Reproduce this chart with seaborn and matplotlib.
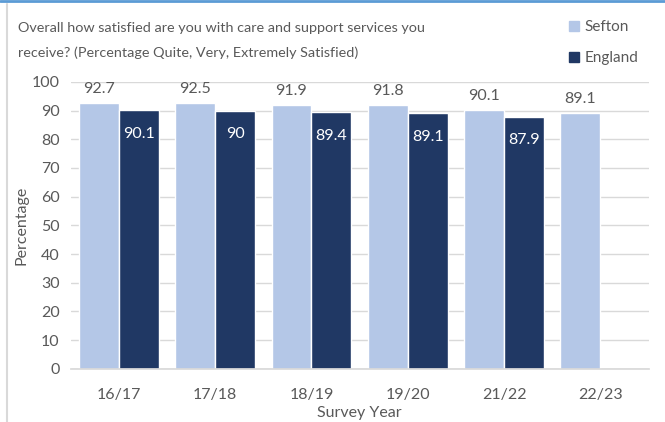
import matplotlib
matplotlib.use("Agg")
import matplotlib.pyplot as plt
from matplotlib.lines import Line2D
from matplotlib import font_manager
import seaborn as sns
import pandas as pd
import numpy as np

years = ["16/17", "17/18", "18/19", "19/20", "21/22", "22/23"]
sefton = [92.7, 92.5, 91.9, 91.8, 90.1, 89.1]
england = [90.1, 90.0, 89.4, 89.1, 87.9, np.nan]

df = pd.DataFrame({
    "Survey Year": years * 2,
    "Percentage": sefton + england,
    "Area": ["Sefton"] * len(years) + ["England"] * len(years),
}).dropna()

sns.set_theme(style="white")
plt.rcParams["font.family"] = ["Lato", "DejaVu Sans"]

# narrow face for the two-line heading, if present
names = {f.name for f in font_manager.fontManager.ttflist}
if "Liberation Sans Narrow" in names:
    title_font, title_size = ["Liberation Sans Narrow", "DejaVu Sans"], 10.8
else:
    title_font, title_size = ["Lato", "DejaVu Sans"], 10.4

text_col = "#595959"
fig = plt.figure(figsize=(6.65, 4.22), dpi=100)
ax = fig.add_axes([0.1063, 0.126, 0.869, 0.680])

palette = {"Sefton": "#B4C7E7", "England": "#203864"}
sns.barplot(data=df, x="Survey Year", y="Percentage", hue="Area",
            order=years, hue_order=["Sefton", "England"],
            palette=palette, width=0.83, ax=ax, legend=False,
            saturation=1, errorbar=None, zorder=2)

ax.set_ylim(0, 100)
ax.set_yticks(range(0, 101, 10))
ax.yaxis.grid(True, color="#D9D9D9", linewidth=1, zorder=0)
ax.set_axisbelow(True)
for s in ["top", "right", "left"]:
    ax.spines[s].set_visible(False)
ax.spines["bottom"].set_color("#D9D9D9")
ax.tick_params(axis="y", colors=text_col, labelsize=11.5, length=0, pad=8)
ax.tick_params(axis="x", colors=text_col, labelsize=11.5, length=0, pad=14)
ax.set_xlabel("Survey Year", color=text_col, fontsize=11.5, labelpad=3)
ax.set_ylabel("Percentage", color=text_col, fontsize=11.5, labelpad=2)

# value labels: Sefton above bar, England inside the top in white
fmt = lambda v: f"{v:g}"
ax.bar_label(ax.containers[0], fmt=fmt, padding=5, color=text_col, fontsize=11.5)
ax.bar_label(ax.containers[1], fmt=fmt, padding=-22, color="white", fontsize=11.5)

fig.text(0.027, 0.924, "Overall how satisfied are you with care and support services you",
         color=text_col, fontsize=title_size, va="baseline", family=title_font)
fig.text(0.027, 0.865, "receive? (Percentage Quite, Very, Extremely Satisfied)",
         color=text_col, fontsize=title_size, va="baseline", family=title_font)

handles = [Line2D([], [], marker="s", linestyle="none", markersize=7,
                  markerfacecolor=palette[k], markeredgecolor=palette[k]) for k in palette]
fig.legend(handles, list(palette.keys()), loc="upper left",
           bbox_to_anchor=(0.834, 0.985), frameon=False, fontsize=11,
           labelcolor=text_col, handletextpad=0.25, labelspacing=1.1,
           handlelength=0.8)

# thin frame edges
fig.add_artist(Line2D([0, 1], [0.997, 0.997], color="#5B9BD5", lw=2, transform=fig.transFigure))
fig.add_artist(Line2D([0.0098, 0.0098], [0, 0.99], color="#D9D9D9", lw=1.5, transform=fig.transFigure))

fig.savefig("out.png", dpi=100)
